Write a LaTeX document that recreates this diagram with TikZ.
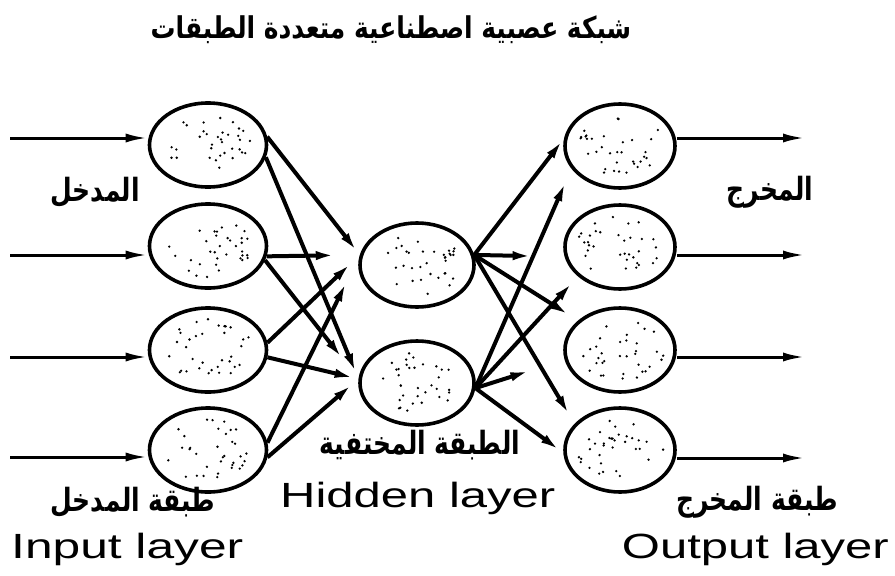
\documentclass[tikz,border=0pt]{standalone}
\usepackage{graphicx}
\usepackage{fontspec}
\setmainfont{Liberation Sans}
\newfontfamily\arabicfont[Script=Arabic]{DejaVu Sans}
\TeXXeTstate=1
\usetikzlibrary{arrows.meta,shapes.geometric}
\begin{document}
\begin{tikzpicture}[x=1pt,y=-1pt,
  neuron/.style={draw, ellipse, line width=3.6pt, minimum width=117pt, minimum height=84pt, inner sep=0pt},
  link/.style={line width=4pt, -{Latex[length=22pt,width=9pt]}},
  io/.style={line width=3pt, -{Latex[length=22pt,width=9pt]}},
  ar/.style={font=\arabicfont\bfseries\fontsize{32}{36}\selectfont, inner sep=0pt},
  en/.style={font=\fontsize{35}{38}\selectfont, inner sep=0pt}
]
\useasboundingbox (0,0) rectangle (895,576);
% neurons
\node[neuron] (i1) at (208,145) {};
\node[neuron] (i2) at (208,246) {};
\node[neuron] (i3) at (208,350) {};
\node[neuron] (i4) at (208,450) {};
\node[neuron, minimum width=114pt] (h1) at (417,265) {};
\node[neuron, minimum width=114pt] (h2) at (417,383) {};
\node[neuron, minimum width=110pt] (o1) at (620,146) {};
\node[neuron, minimum width=110pt] (o2) at (620,247) {};
\node[neuron, minimum width=110pt] (o3) at (620,350) {};
\node[neuron, minimum width=110pt] (o4) at (620,450) {};
% stipple dots
\pgfmathsetseed{17}
\foreach \n in {i1,i2,i3,i4,h1,h2,o1,o2,o3,o4}{
  \foreach \k in {1,...,34}{
    \pgfmathsetmacro\rr{sqrt(rnd)*0.82}
    \pgfmathsetmacro\aa{rnd*360}
    \pgfmathsetmacro\dx{54*\rr*cos(\aa)}
    \pgfmathsetmacro\dy{38*\rr*sin(\aa)}
    \fill ([shift={(\dx pt,\dy pt)}]\n.center) circle (1.3pt);
  }
}
% input / output arrows
\coordinate (s1) at (10,138);
\coordinate (s2) at (10,255);
\coordinate (s3) at (10,357);
\coordinate (s4) at (10,457);
\coordinate (e1) at (805,138);
\coordinate (e2) at (805,255);
\coordinate (e3) at (805,357);
\coordinate (e4) at (805,458);
\draw[io] (s1) -- (s1 -| i1.west);
\draw[io] (s2) -- (s2 -| i2.west);
\draw[io] (s3) -- (s3 -| i3.west);
\draw[io] (s4) -- (s4 -| i4.west);
\draw[io] (e1 -| o1.east) -- (e1);
\draw[io] (e2 -| o2.east) -- (e2);
\draw[io] (e3 -| o3.east) -- (e3);
\draw[io] (e4 -| o4.east) -- (e4);
% input -> hidden
\draw[link, shorten >=2pt] (i1.8) -- (h1.170);
\draw[link, shorten >=4pt] (i1.-12) -- (h2.176);
\draw[link, shorten >=22pt] (i2.-10) -- (h1.170);
\draw[link, shorten >=24pt] (i2.-14) -- (h2.176);
\draw[link, shorten >=10pt] (i3.7) -- (h1.170);
\draw[link, shorten >=2pt] (i3.-7) -- (h2.176);
\draw[link, shorten >=28pt] (i4.7) -- (h1.170);
\draw[link, shorten >=6pt] (i4.-7) -- (h2.176);
% hidden -> output
\draw[link] (h1.10) -- (o1.172);
\draw[link, shorten >=30pt] (h1.10) -- (o2.190);
\draw[link, shorten >=8pt] (h1.10) -- (o3.145);
\draw[link, shorten >=8pt] (h1.10) -- (o4.150);
\draw[link, shorten >=12pt] (h2.-5) -- (o1.205);
\draw[link, shorten >=6pt] (h2.-5) -- (o2.215);
\draw[link, shorten >=34pt] (h2.-5) -- (o3.190);
\draw[link, shorten >=2pt] (h2.-5) -- (o4.183);
% labels
\node[ar, font=\arabicfont\bfseries\fontsize{30}{34}\selectfont] (title) at (391,30) {\scalebox{0.83}[1]{\beginR شبكة عصبية اصطناعية متعددة الطبقات\endR}};
\node[ar] (inAr) at (95,192) {\scalebox{0.78}[1]{\beginR المدخل\endR}};
\node[ar] (outAr) at (770,192) {\scalebox{0.78}[1]{\beginR المخرج\endR}};
\node[ar] (hidAr) at (420,445) {\scalebox{0.78}[1]{\beginR الطبقة المختفية\endR}};
\node[ar] (inLayAr) at (133,502) {\scalebox{0.78}[1]{\beginR طبقة المدخل\endR}};
\node[ar] (outLayAr) at (757,502) {\scalebox{0.78}[1]{\beginR طبقة المخرج\endR}};
\node[en, anchor=base west] (hidEn) at (280,507) {\scalebox{1.4}[1]{Hidden layer}};
\node[en, anchor=base west] (inEn) at (11,558) {\scalebox{1.42}[1]{Input layer}};
\node[en, anchor=base east] (outEn) at (889,558) {\scalebox{1.4}[1]{Output layer}};
\end{tikzpicture}
\end{document}
